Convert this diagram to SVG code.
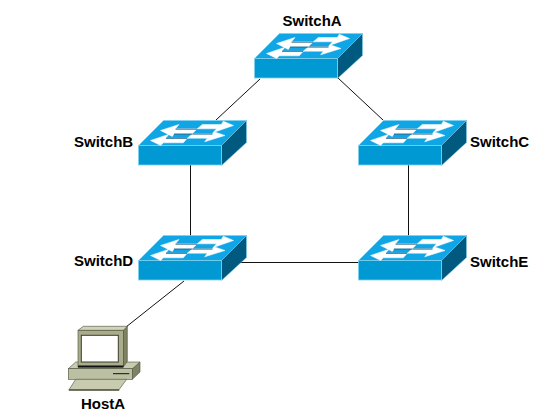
<svg xmlns="http://www.w3.org/2000/svg" width="556" height="420" viewBox="0 0 556 420">
<style>
text{font-family:"Liberation Sans",Arial,sans-serif;font-weight:bold;font-size:15px;fill:#000}
.l{stroke:#111;stroke-width:1;fill:none}
.f{fill:#0099d3;stroke:#7fd0ee;stroke-width:.8}
.t{fill:#10a6e6;stroke:#7fd0ee;stroke-width:.8}
.s{fill:#00597f;stroke:#7fd0ee;stroke-width:.5}
.a{fill:#fff;stroke:#fff;stroke-width:.5}
.d{fill:none;stroke:#0a4f7a;stroke-width:.8}
.h{stroke:#4a4d3a;stroke-width:.6}
</style>
<defs>
<g id="sw">
<polygon class="t" points="0,0 83,0 108,-25 25,-25"/>
<polygon class="s" points="83,0 108,-25 108,-3 83,20"/>
<rect class="f" x="0" y="0" width="83" height="19.500"/>
<polygon class="a" points="22,-15 40.500,-21 37,-16.700 58.800,-16.700 53.800,-11.700 35.500,-11.700 33.800,-9"/>
<polygon class="a" points="95,-20 84.800,-24.300 82.800,-21 63.800,-21 58.800,-16.700 78,-16.700 74.800,-13"/>
<polygon class="a" points="12,-5 30.500,-11.300 27.200,-7.300 48.800,-7.300 44.800,-2.700 24.800,-2.700 22.200,0"/>
<polygon class="a" points="86.500,-10 75.500,-13.800 73.800,-11.700 53.800,-11.700 48.800,-7.300 68.800,-7.300 66.200,-3.700"/>
<path class="d" d="M37,-16.300H58.500M27.500,-7.200H48.500M53.800,-11.400H35.500M74,-11.400H54"/>
</g>
</defs>
<g id="connectors">
<line class="l" x1="260" y1="79" x2="216" y2="120"/>
<line class="l" x1="338" y1="78" x2="383" y2="120"/>
<line class="l" x1="190.500" y1="165" x2="190.500" y2="237"/>
<line class="l" x1="408.500" y1="165" x2="408.500" y2="237"/>
<line class="l" x1="221" y1="262.500" x2="359" y2="262.500"/>
<line class="l" x1="184" y1="281" x2="126" y2="327"/>
</g>
<g id="SwitchA"><use href="#sw" x="254.500" y="58.500"/><text x="282.500" y="26">SwitchA</text></g>
<g id="SwitchB"><use href="#sw" x="138.500" y="145.500"/><text x="74" y="147">SwitchB</text></g>
<g id="SwitchC"><use href="#sw" x="358.500" y="145.500"/><text x="470" y="147">SwitchC</text></g>
<g id="SwitchD"><use href="#sw" x="138.500" y="260.500"/><text x="74" y="266">SwitchD</text></g>
<g id="SwitchE"><use href="#sw" x="358.500" y="260.500"/><text x="470" y="267">SwitchE</text></g>
<g id="HostA">
<polygon class="h" fill="#7f8363" points="132.300,368.700 140,362 140,372 132.300,379.300"/>
<polygon class="h" fill="#c8cbb0" points="68.300,368.700 75.700,362 140,362 132.300,368.700"/>
<rect class="h" x="68.300" y="368.700" width="64" height="10.600" fill="#bcc0a2"/>
<line x1="113" y1="373.700" x2="129.300" y2="373.700" stroke="#111" stroke-width="1"/>
<polygon class="h" fill="#c8cbb0" points="69,389.700 75.700,379.300 126.700,379.300 119,389.700"/>
<rect class="h" x="69" y="389.700" width="50" height="0.800" fill="#7f8363"/>
<polygon class="h" fill="#7f8363" points="123.300,330.300 127.300,326.300 127.300,361.300 123.300,367"/>
<polygon class="h" fill="#d0d3b8" points="78,330.300 83.300,326.300 127.300,326.300 123.300,330.300"/>
<rect class="h" x="78" y="330.300" width="45.300" height="36.700" fill="#a9ad8c"/>
<rect x="78" y="365.500" width="45.300" height="2" fill="#111"/>
<rect x="81.300" y="335.300" width="37" height="26.700" fill="#fff" stroke="#3a3d2c" stroke-width="1"/>
<text x="81" y="409">HostA</text>
</g>
</svg>
